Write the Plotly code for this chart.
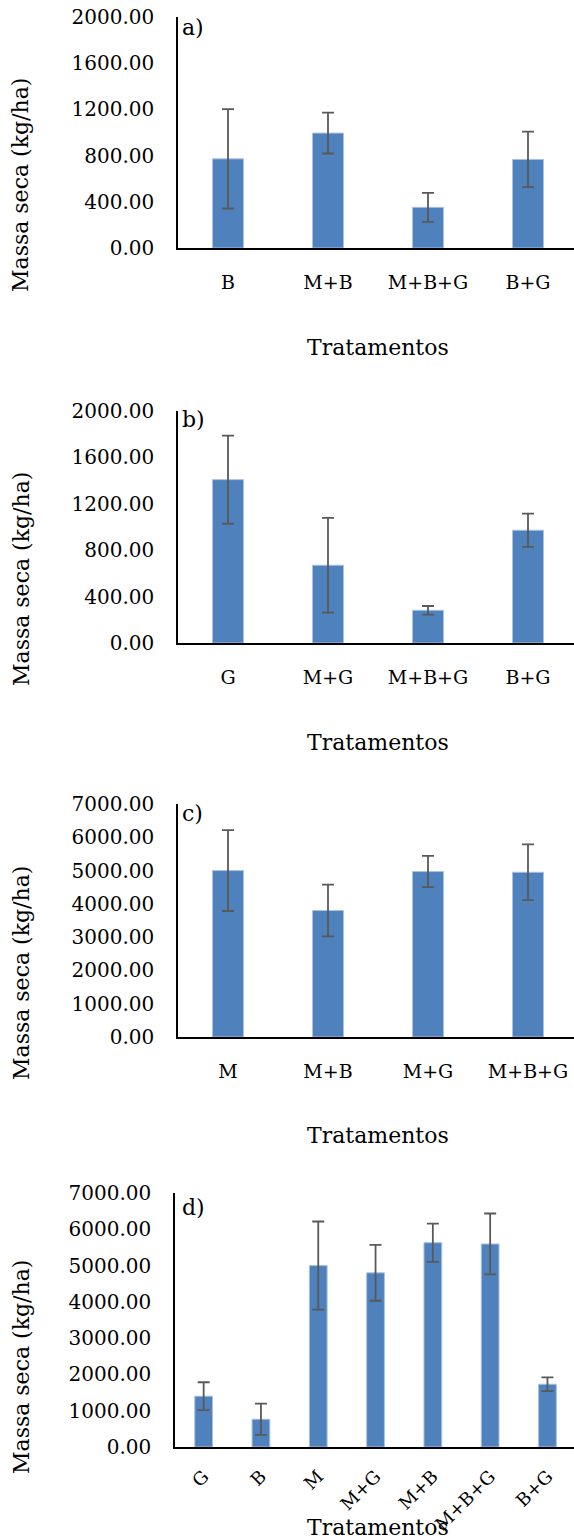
import plotly.graph_objects as go

# ---- data ----
cats_a = ["B", "M+B", "M+B+G", "B+G"]
vals_a = [772, 995, 352, 767]
err_a = [430, 177, 125, 240]

cats_b = ["G", "M+G", "M+B+G", "B+G"]
vals_b = [1408, 670, 282, 972]
err_b = [380, 408, 37, 144]

cats_c = ["M", "M+B", "M+G", "M+B+G"]
vals_c = [5000, 3800, 4970, 4950]
err_c = [1215, 775, 470, 835]

cats_d = ["G", "B", "M", "M+G", "M+B", "M+B+G", "B+G"]
vals_d = [1400, 765, 5000, 4800, 5630, 5595, 1730]
err_d = [385, 430, 1215, 770, 528, 840, 188]

panel_labels = ["a)", "b)", "c)", "d)"]
y_title = "Massa seca (kg/ha)"
x_title = "Tratamentos"

W, H = 574, 1539
FONT = "DejaVu Serif"
BAR_COLOR = "#4F81BD"
ERR_COLOR = "#595959"


def fy(p):
    return 1 - p / H


def fx(p):
    return p / W


panels = [
    dict(cats=cats_a, vals=vals_a, err=err_a, ymax=2000, dt=400, top=17, bot=248, left=178, title_y=185, xt_y=347, lab_y=27, angle=0),
    dict(cats=cats_b, vals=vals_b, err=err_b, ymax=2000, dt=400, top=411, bot=643, left=178, title_y=579, xt_y=742, lab_y=419, angle=0),
    dict(cats=cats_c, vals=vals_c, err=err_c, ymax=7000, dt=1000, top=804, bot=1037, left=178, title_y=973, xt_y=1135, lab_y=813, angle=0),
    dict(cats=cats_d, vals=vals_d, err=err_d, ymax=7000, dt=1000, top=1193, bot=1447, left=175, title_y=1367, xt_y=1527, lab_y=1207, angle=-45),
]

fig = go.Figure()
annotations = []
for i, p in enumerate(panels):
    n = i + 1
    xa = "x" if n == 1 else f"x{n}"
    ya = "y" if n == 1 else f"y{n}"
    fig.add_trace(go.Bar(
        x=p["cats"], y=p["vals"], xaxis=xa, yaxis=ya,
        width=0.31,
        marker=dict(color=BAR_COLOR, line=dict(color="#A9C1E2", width=1)),
        error_y=dict(type="data", array=p["err"], visible=True,
                     color=ERR_COLOR, thickness=1.8, width=6),
        showlegend=False,
    ))
    ncat = len(p["cats"])
    cat_px = 100 if ncat == 4 else 57.3
    right_range = -0.5 + (W - p["left"]) / cat_px
    xkey = "xaxis" if n == 1 else f"xaxis{n}"
    ykey = "yaxis" if n == 1 else f"yaxis{n}"
    rotated = p["angle"] != 0
    fig.update_layout(**{
        xkey: dict(domain=[fx(p["left"]), 1], anchor=ya, range=[-0.5, right_range],
                   showline=True, linecolor="black", linewidth=1.5,
                   showgrid=False, zeroline=False, ticks="", automargin=False,
                   tickangle=p["angle"], ticklabelstandoff=10 if rotated else 16,
                   tickfont=dict(family=FONT, size=18 if rotated else 19, color="black"),
                   fixedrange=True),
        ykey: dict(domain=[fy(p["bot"]), fy(p["top"])], anchor=xa, range=[0, p["ymax"]],
                   dtick=p["dt"], tick0=0, tickformat=".2f", automargin=False,
                   showline=True, linecolor="black", linewidth=1.5,
                   showgrid=False, zeroline=False, ticks="",
                   ticklabelstandoff=18,
                   tickfont=dict(family=FONT, size=20, color="black"),
                   fixedrange=True),
    })
    annotations.append(dict(text=y_title, xref="paper", yref="paper", x=fx(21), y=fy(p["title_y"]),
                            textangle=-90, showarrow=False, xanchor="center", yanchor="middle",
                            font=dict(family=FONT, size=22, color="black")))
    annotations.append(dict(text=x_title, xref="paper", yref="paper", x=fx(378), y=fy(p["xt_y"]),
                            showarrow=False, xanchor="center", yanchor="middle",
                            font=dict(family=FONT, size=22, color="black")))
    annotations.append(dict(text=panel_labels[i], xref="paper", yref="paper", x=fx(180), y=fy(p["lab_y"]),
                            showarrow=False, xanchor="left", yanchor="middle",
                            font=dict(family=FONT, size=22, color="black")))

fig.update_layout(
    width=W, height=H,
    margin=dict(l=0, r=0, t=0, b=0, autoexpand=False),
    paper_bgcolor="white", plot_bgcolor="white",
    annotations=annotations,
    bargap=0.69,
)

fig.write_html("out.html", config={"displayModeBar": False},
               post_script="document.body.style.margin='0';")
